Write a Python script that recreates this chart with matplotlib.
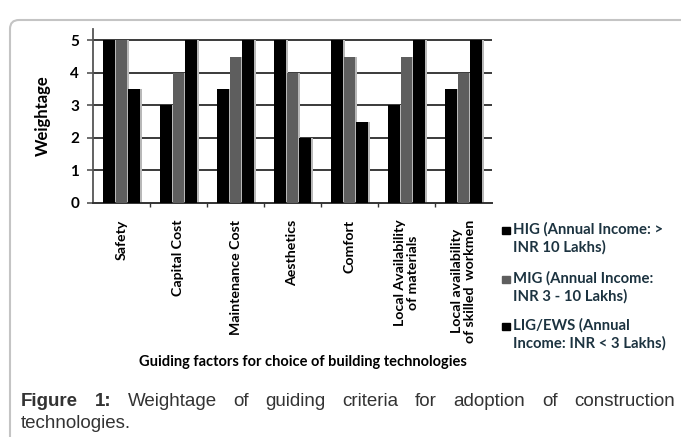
import numpy as np
import matplotlib
matplotlib.use("Agg")
import matplotlib.pyplot as plt
from matplotlib.patches import FancyBboxPatch, Rectangle
from matplotlib.transforms import IdentityTransform

categories = ["Safety", "Capital Cost", "Maintenance Cost", "Aesthetics", "Comfort",
              "Local Availability\nof materials", "Local availability\nof skilled  workmen"]
hig = [5, 3, 3.5, 5, 5, 3, 3.5]
mig = [5, 4, 4.5, 4, 4.5, 4.5, 4]
lig = [3.5, 5, 5, 2, 2.5, 5, 5]
series_names = ["HIG (Annual Income: >\nINR 10 Lakhs)",
                "MIG (Annual Income:\nINR 3 - 10 Lakhs)",
                "LIG/EWS (Annual\nIncome: INR < 3 Lakhs)"]
series_colors = ["#000000", "#5e5e5e", "#000000"]

W, H = 681, 437
fig = plt.figure(figsize=(W / 100, H / 100), dpi=100)
lab_font = "Lato"

# outer rounded frame (partly cut by the image edge)
frame = FancyBboxPatch((10, -40), 720, H - 10 + 40 - 10,
                       boxstyle="round,pad=0,rounding_size=9",
                       transform=IdentityTransform(), fill=False,
                       edgecolor="#c4c4c4", lw=1.5)
fig.add_artist(frame)

ax = fig.add_axes([93 / W, 1 - 203 / H, (492 - 93) / W, (203 - 29) / H])
x = np.arange(len(categories))
bw = 0.2
off = 0.22
for k, vals in enumerate([hig, mig, lig]):
    pos = x + (k - 1) * off
    ax.bar(pos + 0.035, vals, bw, color="#b8b8b8", zorder=2)
    ax.bar(pos, vals, bw, color=series_colors[k], zorder=3)

ax.set_xlim(-0.5, len(categories) - 0.5)
ax.set_ylim(0, 5.35)
ax.set_yticks(range(6))
for yv in range(1, 6):
    ax.axhline(yv, color="#3a3a3a", lw=1.4, zorder=1)
for s in ["top", "right"]:
    ax.spines[s].set_visible(False)
ax.spines["left"].set_color("#555555")
ax.spines["left"].set_linewidth(1.3)
ax.spines["bottom"].set_color("#333333")
ax.spines["bottom"].set_linewidth(1.4)
ax.tick_params(axis="y", length=4, width=1.2, color="#555555", pad=6)
for t in ax.get_yticklabels():
    t.set_fontweight("bold")
    t.set_fontsize(11)
    t.set_fontfamily(lab_font)

ax.set_xticks(x)
ax.set_xticklabels(categories, rotation=90, fontsize=10.2, fontweight="bold",
                   family=lab_font, va="top", ha="center", multialignment="center",
                   linespacing=1.15)
ax.set_xticks(np.arange(0.5, len(categories) - 1, 1.0), minor=True)
ax.tick_params(axis="x", which="major", length=0, pad=12)
ax.tick_params(axis="x", which="minor", length=3, width=1.0, color="#333333")

fig.text(43 / W, 1 - 116 / H, "Weightage", rotation=90, fontsize=12,
         fontweight="bold", family=lab_font, ha="center", va="center")
fig.text(303 / W, 1 - 362 / H, "Guiding factors for choice of building technologies",
         fontsize=10.5, fontweight="bold", family=lab_font, ha="center", va="center")

# legend drawn by hand so the marker sits on the first line
leg_y = [231, 280, 327]
for name, col, yy in zip(series_names, series_colors, leg_y):
    fig.add_artist(Rectangle((502 / W, 1 - (yy + 2.5) / H), 8 / W, 7 / H,
                             transform=fig.transFigure, color=col))
    fig.text(513 / W, 1 - (yy - 9) / H, name, fontsize=10.7, fontweight="bold",
             family=lab_font, color="#1c3340", va="top", ha="left", linespacing=1.3)

# justified caption
cap_words = [("Figure", "bold"), ("1:", "bold"), ("Weightage", "normal"), ("of", "normal"),
             ("guiding", "normal"), ("criteria", "normal"), ("for", "normal"),
             ("adoption", "normal"), ("of", "normal"), ("construction", "normal")]
renderer = fig.canvas.get_renderer()
texts = []
widths = []
for w, fw in cap_words:
    t = fig.text(0, 1 - 402 / H, w, fontsize=13.5, fontweight=fw, family="Liberation Sans",
                 color="#333333", va="center", ha="left")
    texts.append(t)
    widths.append(t.get_window_extent(renderer).width)
x0, x1 = 21, 675
gap = (x1 - x0 - sum(widths)) / (len(widths) - 1)
cx = x0
for t, wd in zip(texts, widths):
    t.set_x(cx / W)
    cx += wd + gap
fig.text(21 / W, 1 - 424 / H, "technologies.", fontsize=13.5, family="Liberation Sans",
         color="#333333", va="center", ha="left")

fig.savefig("out.png", dpi=100)
